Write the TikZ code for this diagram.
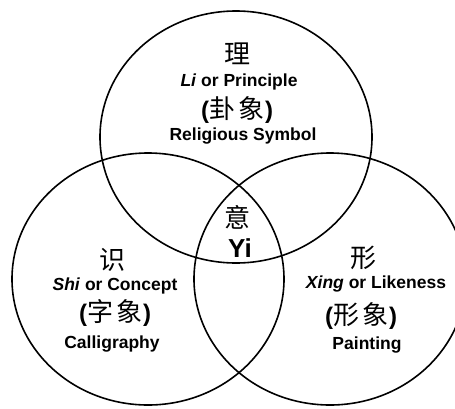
\documentclass[tikz,border=0pt]{standalone}
\usepackage{fontspec}
\setmainfont{Liberation Sans}
\newfontfamily\cjk{Noto Sans CJK SC}
\tikzset{
  venn/.style={draw=black, line width=1.6pt},
  lat/.style={font=\bfseries\fontsize{17.5}{20}\selectfont, anchor=base, inner sep=0pt},
  han/.style={font=\cjk\fontsize{26}{28}\selectfont, inner sep=0pt},
  paren/.style={font=\bfseries\fontsize{24}{28}\selectfont, inner sep=0pt},
}
\newcommand{\cjkpair}[2]{(\hspace{0.5pt}{\cjk\mdseries\fontsize{26}{28}\selectfont #1\hspace{3pt}#2}\hspace{0.5pt})}
\begin{document}
\begin{tikzpicture}[x=1pt,y=-1pt]
\useasboundingbox (0,0) rectangle (455,408);
\clip (0,0) rectangle (455,408);
\fill[white] (0,0) rectangle (455,408);
% circles
\draw[venn] (236,137) ellipse [x radius=136, y radius=126];
\draw[venn] (148,279) ellipse [x radius=136, y radius=126];
\draw[venn] (330,279) ellipse [x radius=136, y radius=126];
% top group
\node[han] (li) at (237,54) {理};
\node[lat] (lit) at (239,86) {\textit{Li} or Principle};
\node[paren] (lip) at (237,110) {\cjkpair{卦}{象}};
\node[lat] (lis) at (243,140) {Religious Symbol};
% centre
\node[han] (yi) at (237,217) {意};
\node[lat, font=\bfseries\fontsize{26}{28}\selectfont] (yit) at (240,257) {Yi};
% left group
\node[han] (shi) at (112,260) {识};
\node[lat] (shit) at (115,290) {\textit{Shi} or Concept};
\node[paren] (ship) at (115,313) {\cjkpair{字}{象}};
\node[lat] (shic) at (112,348) {Calligraphy};
% right group
\node[han] (xing) at (363,258) {形};
\node[lat] (xingt) at (376,288) {\textit{Xing} or Likeness};
\node[paren] (xingp) at (361,316) {\cjkpair{形}{象}};
\node[lat] (xingc) at (367,349) {Painting};
\end{tikzpicture}
\end{document}
